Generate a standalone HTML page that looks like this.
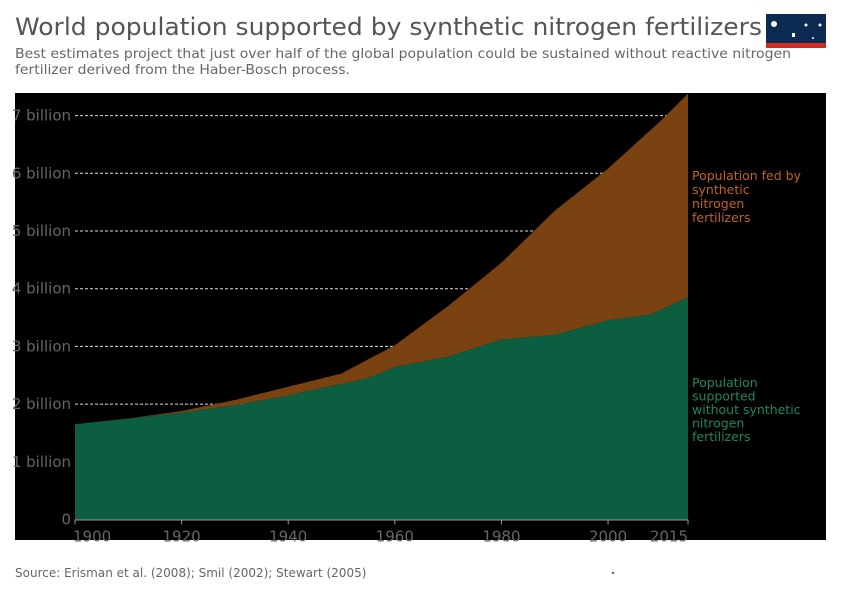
<!DOCTYPE html>
<html><head><meta charset="utf-8"><style>
html,body{margin:0;padding:0;background:#fff;}
svg{display:block;font-family:"DejaVu Sans","Liberation Sans",sans-serif;}
</style></head><body>
<svg id="chart" width="842" height="594" viewBox="0 0 842 594">
<text x="15" y="35" font-size="24" fill="#555" textLength="747" lengthAdjust="spacingAndGlyphs">World population supported by synthetic nitrogen fertilizers</text>
<text x="15" y="58" font-size="13.5" fill="#666" textLength="776" lengthAdjust="spacingAndGlyphs">Best estimates project that just over half of the global population could be sustained without reactive nitrogen</text>
<text x="15" y="74" font-size="13.5" fill="#666" textLength="335" lengthAdjust="spacingAndGlyphs">fertilizer derived from the Haber-Bosch process.</text>
<g>
<rect x="766" y="14" width="60" height="29" fill="#0c2a52"/>
<rect x="766" y="43" width="60" height="5" fill="#d42b21"/>
<circle cx="774" cy="24" r="3" fill="#fff"/><circle cx="806" cy="25" r="1.5" fill="#fff"/><circle cx="820" cy="25" r="1.5" fill="#fff"/>
<rect x="792" y="33" width="3" height="4" fill="#fff"/><circle cx="813" cy="38" r="1" fill="#fff"/>
</g>
<rect x="15" y="93" width="811" height="447" fill="#000"/>
<g id="grid"></g>
<g id="areas"></g>
<g id="axes"></g>
<text x="692" y="180" font-size="12.5" fill="#c0651a"><tspan x="692">Population fed by</tspan><tspan x="692" dy="14">synthetic</tspan><tspan x="692" dy="14">nitrogen</tspan><tspan x="692" dy="14">fertilizers</tspan></text>
<text x="692" y="387" font-size="12.5" fill="#1a8a5c"><tspan x="692">Population</tspan><tspan x="692" dy="13.5">supported</tspan><tspan x="692" dy="13.5">without synthetic</tspan><tspan x="692" dy="13.5">nitrogen</tspan><tspan x="692" dy="13.5">fertilizers</tspan></text>
<text x="15" y="577" font-size="12" fill="#666">Source: Erisman et al. (2008); Smil (2002); Stewart (2005)</text>
<circle cx="613" cy="573" r="1.2" fill="#666"/>
</svg>
<script>
const yearsTotal=[1900,1910,1920,1930,1940,1950,1960,1970,1980,1990,2000,2010,2015];
const totalPop=[1.65,1.75,1.88,2.07,2.3,2.53,3.02,3.7,4.45,5.35,6.08,6.92,7.38];
const yearsBase=[1900,1910,1920,1930,1940,1950,1955,1960,1970,1980,1990,2000,2008,2015];
const basePop=[1.65,1.75,1.85,1.98,2.15,2.35,2.45,2.64,2.82,3.12,3.2,3.45,3.55,3.85];
const yTicks=[0,1,2,3,4,5,6,7];
const yTickLabels=["0","1 billion","2 billion","3 billion","4 billion","5 billion","6 billion","7 billion"];
const xTicks=[1900,1920,1940,1960,1980,2000,2015];
{
const NS="http://www.w3.org/2000/svg";
const X=y=>75+(y-1900)*(688-75)/115;
const Y=v=>519.5-v*57.7;
function mk(tag,attrs,parent){const e=document.createElementNS(NS,tag);for(const k in attrs)e.setAttribute(k,attrs[k]);document.getElementById(parent).appendChild(e);return e;}
yTicks.forEach((t,i)=>{
  if(t>0){const l=mk('line',{x1:75,x2:688,y1:Y(t),y2:Y(t),stroke:'#ddd','stroke-dasharray':'3,2','stroke-width':1},'grid');
  
  }
  const tx=mk('text',{x:71,y:Y(t)+5,'text-anchor':'end','font-size':15,fill:'#666'},'axes');
  tx.textContent=yTickLabels[i];
  
  
});
const topPath=yearsTotal.map((y,i)=>X(y)+','+Y(totalPop[i])).join(' L');
const bot=yearsBase.map((y,i)=>X(y)+','+Y(basePop[i]));
const brown=mk('path',{d:'M'+topPath+' L'+bot.slice().reverse().join(' L')+'Z',fill:'#7a4210'},'areas');


const green=mk('path',{d:'M'+X(1900)+','+Y(0)+' L'+bot.join(' L')+' L'+X(2015)+','+Y(0)+'Z',fill:'#0b5e40'},'areas');


const ax=mk('line',{x1:75,x2:688,y1:Y(0)+0.5,y2:Y(0)+0.5,stroke:'#999'},'axes');


xTicks.forEach((t,i)=>{
  mk('line',{x1:X(t),x2:X(t),y1:Y(0),y2:Y(0)+5,stroke:'#999'},'axes');
  const anchor=i==0?'start':(i==xTicks.length-1?'end':'middle');
  const tx=mk('text',{x:X(t)+(i==0?-2:0),y:Y(0)+22,'text-anchor':anchor,'font-size':15,fill:'#666'},'axes');
  tx.textContent=t;
  
  
});
}
</script>
</body></html>
